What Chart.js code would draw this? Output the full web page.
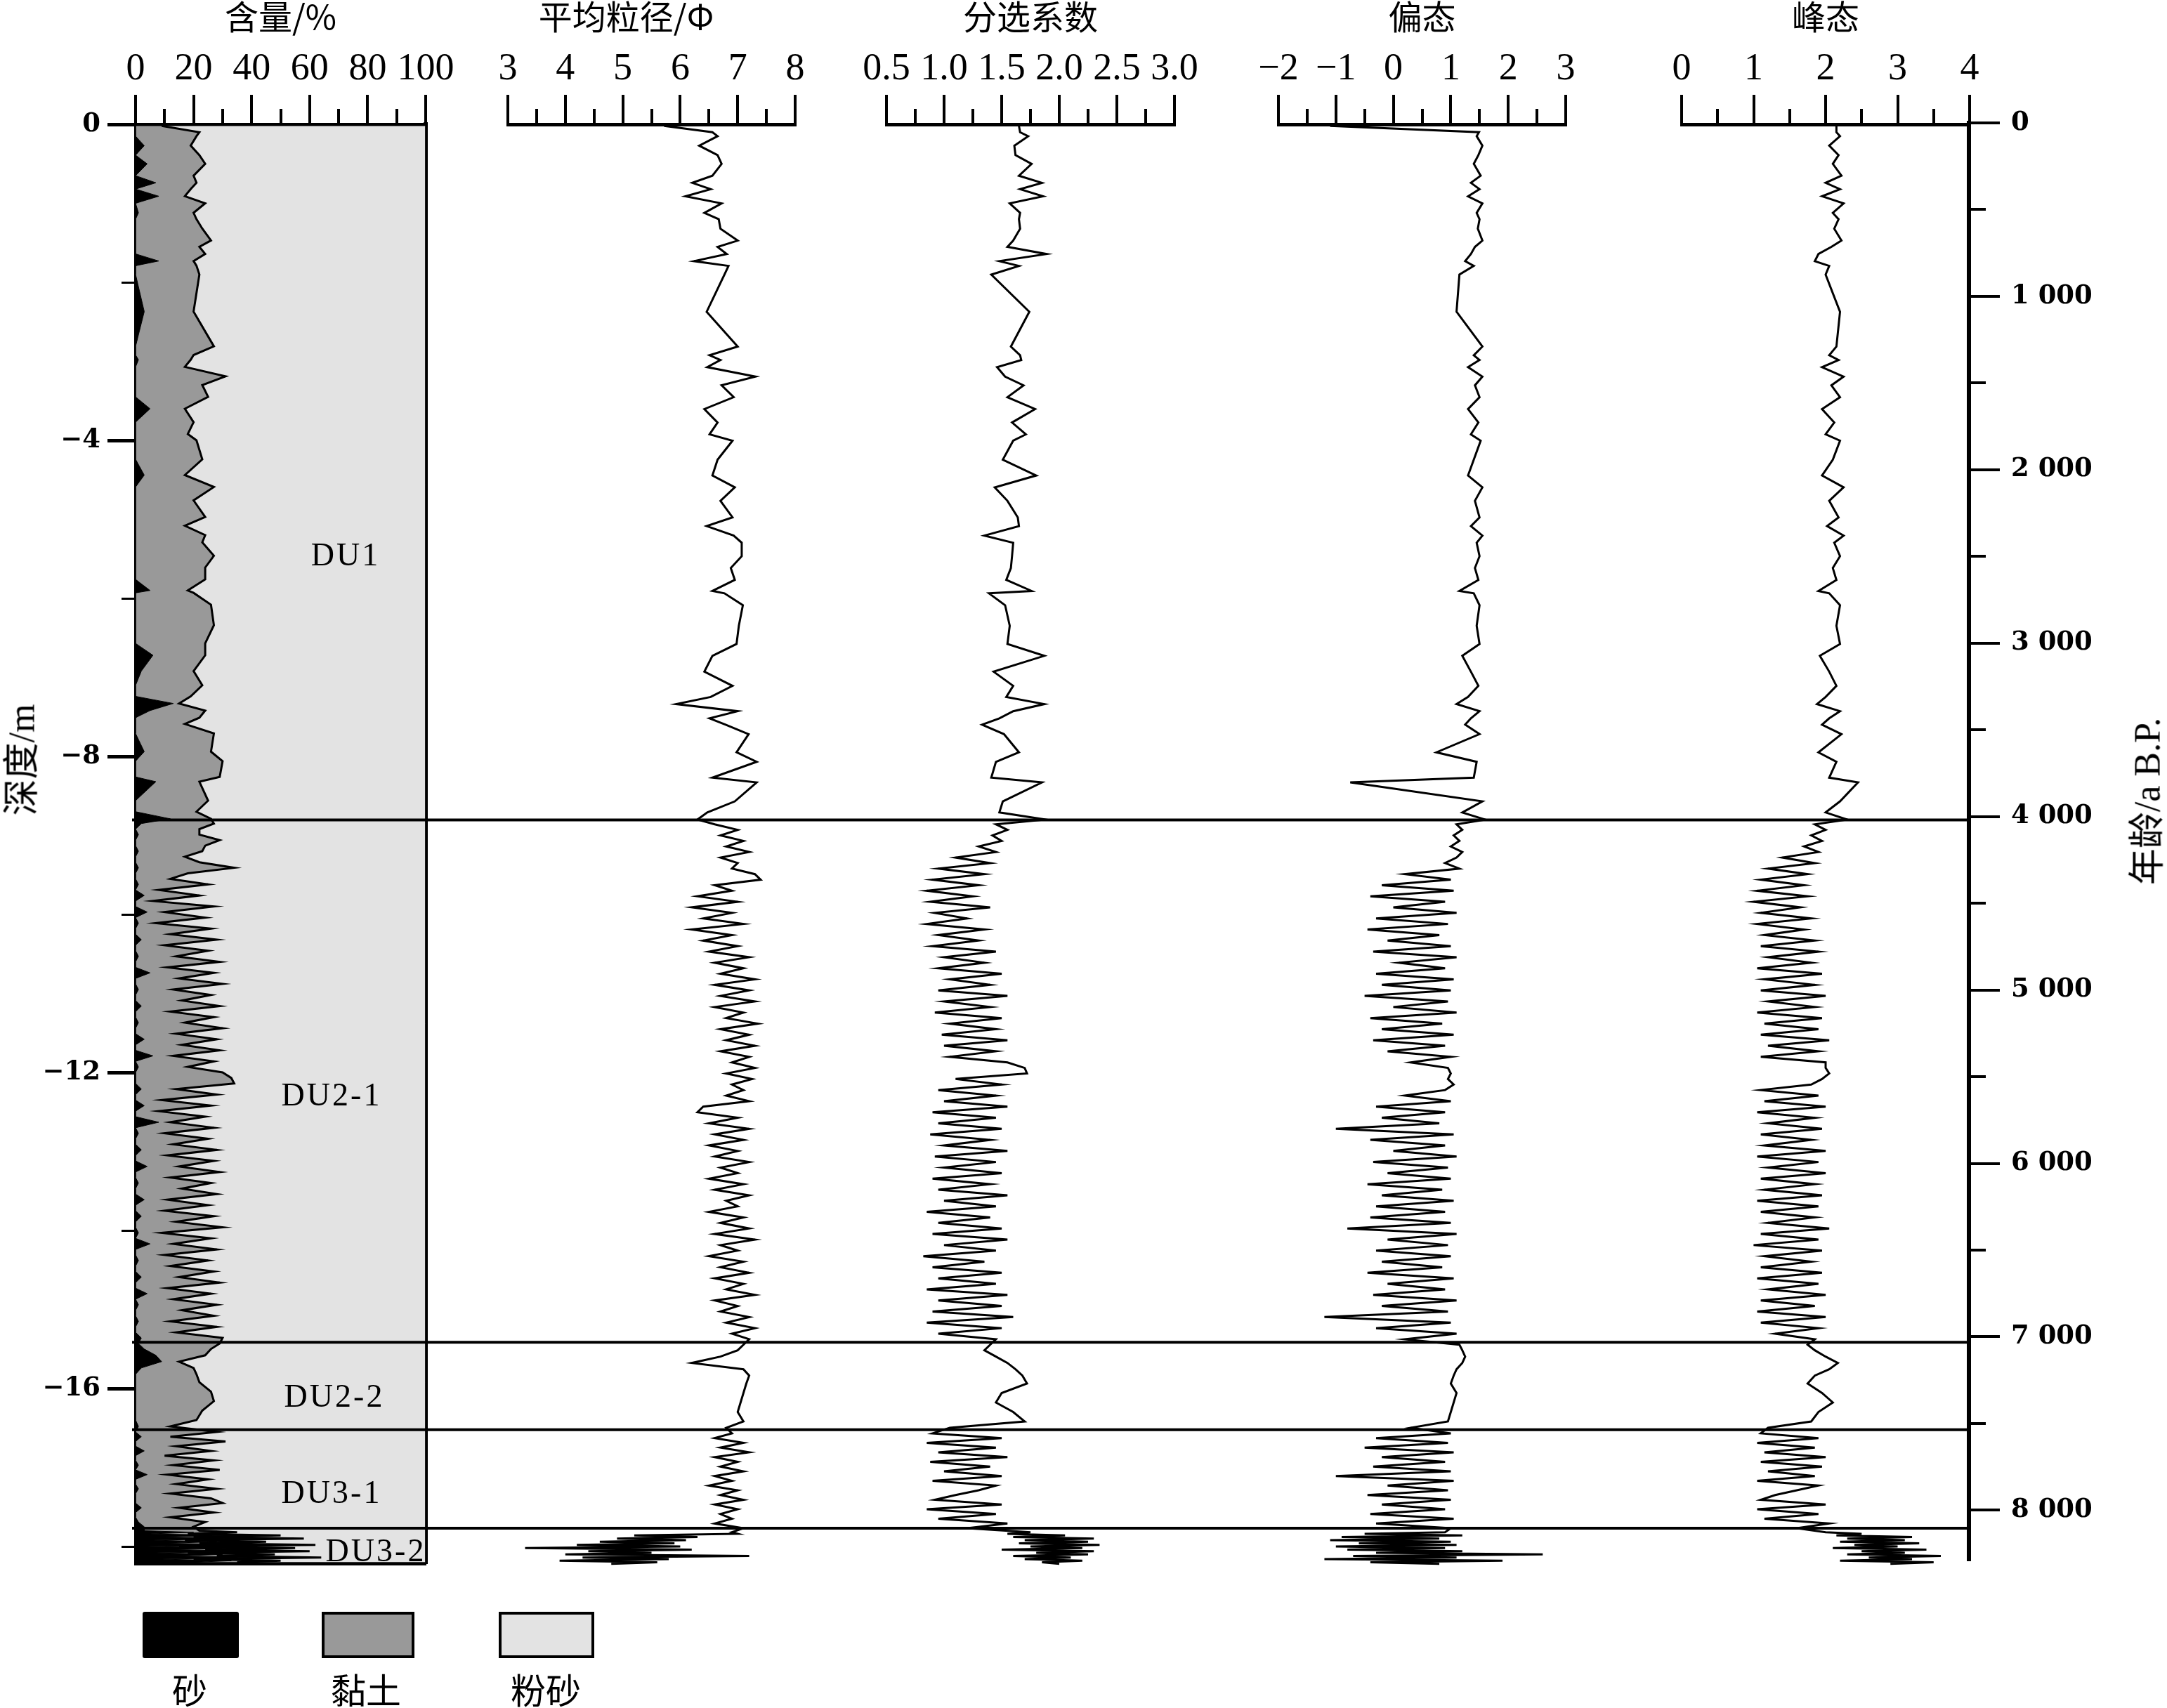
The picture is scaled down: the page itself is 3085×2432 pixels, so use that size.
<!DOCTYPE html>
<html>
<head>
<meta charset="utf-8">
<title>Core grain-size profile</title>
<script src="https://cdn.jsdelivr.net/npm/chart.js"></script>
<style>
    html, body { margin: 0; padding: 0; background: #ffffff; overflow: hidden; }
    #page { position: relative; width: 3085px; height: 2432px; background: #ffffff; }
    #page canvas { position: absolute; top: 0; }
    .txt { position: absolute; transform: translate(-50%, -50%); white-space: nowrap; color: #000; }
    .unit { font-family: 'Liberation Serif', serif; font-size: 46px; letter-spacing: 3px; }
    .cjk { font-family: 'Noto Sans CJK SC', sans-serif; font-size: 50px; }
    .vert { transform: translate(-50%, -50%) rotate(-90deg); font-family: 'Liberation Serif', 'Noto Sans CJK SC', serif; font-size: 52px; }
    .swatch { position: absolute; top: 2295px; height: 66px; box-sizing: border-box; }
</style>
</head>
<body>
<div id="page">
    <canvas id="c1" width="660" height="2259" style="left:0px"></canvas>
    <canvas id="c2" width="529" height="2259" style="left:663px"></canvas>
    <canvas id="c3" width="530" height="2259" style="left:1202px"></canvas>
    <canvas id="c4" width="529" height="2259" style="left:1760px"></canvas>
    <canvas id="c5" width="530" height="2259" style="left:2334px"></canvas>
    <canvas id="overlay" width="3085" height="2259" style="left:0px; pointer-events:none"></canvas>

    <div class="txt unit" style="left:492px; top:789px">DU1</div>
    <div class="txt unit" style="left:472px; top:1558px">DU2-1</div>
    <div class="txt unit" style="left:476px; top:1987px">DU2-2</div>
    <div class="txt unit" style="left:472px; top:2124px">DU3-1</div>
    <div class="txt unit" style="left:535px; top:2207px">DU3-2</div>

    <div class="txt vert" style="left:26px; top:1082px">深度/m</div>
    <div class="txt vert" style="left:3052px; top:1141px">年龄/a B.P.</div>

    <div class="swatch" style="left:203px; width:137px; background:#000000; border-radius:3px"></div>
    <div class="swatch" style="left:458px; width:132px; background:#999999; border:4px solid #000"></div>
    <div class="swatch" style="left:710px; width:136px; background:#e3e3e3; border:4px solid #000"></div>
    <div class="txt cjk" style="left:270px; top:2404px">砂</div>
    <div class="txt cjk" style="left:521px; top:2404px">黏土</div>
    <div class="txt cjk" style="left:777px; top:2404px">粉砂</div>
</div>

<script>
    // sample depths (m below top), one block per sedimentary unit
    var depth = [
        // DU1
        0.02, 0.10, 0.15, 0.27, 0.39, 0.50, 0.65, 0.74, 0.82, 0.91,
        1.00, 1.12, 1.20, 1.32, 1.47, 1.55, 1.64, 1.73, 1.79, 1.90,
        2.37, 2.81, 2.92, 2.98, 3.07, 3.19, 3.30, 3.45, 3.60, 3.77,
        3.92, 4.00, 4.24, 4.44, 4.59, 4.76, 4.97, 5.08, 5.20, 5.29,
        5.46, 5.61, 5.76, 5.90, 5.93, 6.08, 6.34, 6.57, 6.72, 6.92,
        7.10, 7.24, 7.33, 7.42, 7.51, 7.59, 7.71, 7.94, 8.06, 8.26,
        8.32, 8.56, 8.70, 8.79,
        // DU2-1
        8.85, 8.92, 8.99, 9.06, 9.13, 9.20, 9.27, 9.34, 9.41, 9.48,
        9.55, 9.62, 9.69, 9.76, 9.83, 9.90, 9.97, 10.04, 10.11, 10.18,
        10.25, 10.32, 10.39, 10.46, 10.53, 10.60, 10.67, 10.74, 10.81, 10.88,
        10.95, 11.02, 11.09, 11.16, 11.23, 11.30, 11.37, 11.44, 11.51, 11.58,
        11.65, 11.72, 11.79, 11.86, 11.93, 12.00, 12.07, 12.14, 12.21, 12.28,
        12.35, 12.42, 12.49, 12.56, 12.63, 12.70, 12.77, 12.84, 12.91, 12.98,
        13.05, 13.12, 13.19, 13.26, 13.33, 13.40, 13.47, 13.54, 13.61, 13.68,
        13.75, 13.82, 13.89, 13.96, 14.03, 14.10, 14.17, 14.24, 14.31, 14.38,
        14.45, 14.52, 14.59, 14.66, 14.73, 14.80, 14.87, 14.94, 15.01, 15.08,
        15.15, 15.22, 15.29, 15.36,
        // DU2-2
        15.43, 15.50, 15.58, 15.66, 15.74, 15.82, 15.92, 16.04, 16.16, 16.28, 16.40, 16.48,
        // DU3-1
        16.55, 16.61, 16.67, 16.73, 16.79, 16.85, 16.91, 16.97, 17.03, 17.09,
        17.15, 17.21, 17.27, 17.33, 17.39, 17.45, 17.51, 17.57, 17.63, 17.69, 17.75,
        // DU3-2
        17.80, 17.82, 17.84, 17.86, 17.88, 17.90, 17.92, 17.94, 17.96, 17.98,
        18.00, 18.02, 18.04, 18.06, 18.08, 18.10, 18.12, 18.14, 18.16, 18.18, 18.20
    ];

    // sand content, %
    var sand = [
        0, 0, 0, 3, 0, 4, 0, 7, 0, 8,   0, 1, 0, 0, 0, 0, 0, 8, 0, 0,
        3, 0, 0, 1, 0, 0, 0, 0, 5, 0,   0, 0, 0, 3, 0, 0, 0, 0, 0, 0,
        0, 0, 0, 5, 0, 0, 0, 0, 6, 2,   0, 0, 13, 5, 0, 0, 0, 3, 0, 0,
        7, 0, 0, 12,
        2, 0, 1, 0, 0, 1, 0, 0, 1, 0,   0, 1, 0, 3, 0, 0, 4, 0, 1, 0,
        0, 2, 0, 0, 1, 0, 0, 5, 0, 0,   1, 0, 0, 2, 0, 0, 1, 0, 0, 3,
        0, 0, 6, 0, 1, 0, 0, 0, 2, 0,   0, 3, 0, 0, 8, 0, 1, 0, 0, 2,
        0, 0, 4, 0, 0, 1, 0, 0, 3, 0,   0, 2, 0, 0, 1, 0, 5, 0, 0, 1,
        0, 0, 2, 0, 0, 4, 0, 1, 0, 0,   1, 0, 0, 2,
        1, 3, 7, 9, 2, 0, 0, 0, 0, 0, 0, 1,
        0, 2, 0, 0, 3, 0, 0, 1, 0, 4,   0, 0, 1, 0, 0, 0, 2, 0, 0, 1, 3,
        3, 20, 5, 35, 8, 40, 6, 28, 10, 45,   4, 38, 12, 42, 7, 30, 15, 44, 9, 33, 20
    ];

    // clay content, %
    var clay = [
        9, 22, 21, 16, 22, 20, 20, 14, 19, 9,   24, 19, 21, 23, 26, 22, 24, 12, 21, 22,
        17, 27, 20, 18, 17, 31, 23, 25, 12, 20,   18, 21, 23, 14, 27, 20, 24, 17, 24, 23,
        27, 24, 24, 13, 20, 26, 27, 24, 18, 18,   23, 19, 2, 19, 22, 17, 27, 23, 30, 29,
        15, 25, 21, 14,
        25, 22, 21, 29, 24, 22, 17, 22, 33, 18,   12, 24, 8, 19, 6, 27, 6, 24, 6, 26,
        12, 26, 10, 25, 13, 29, 11, 22, 15, 30,   12, 26, 16, 27, 12, 27, 16, 30, 14, 25,
        16, 29, 7, 27, 17, 30, 33, 34, 12, 28,   9, 23, 8, 24, 4, 27, 9, 25, 13, 26,
        11, 27, 11, 29, 12, 25, 16, 28, 8, 25,   10, 25, 14, 30, 8, 26, 8, 28, 10, 24,
        12, 27, 13, 29, 11, 22, 13, 27, 16, 27,   11, 28, 14, 28,
        28, 23, 17, 6, 18, 21, 22, 26, 27, 23, 21, 11,
        28, 10, 31, 14, 23, 10, 27, 12, 29, 7,   25, 14, 27, 12, 26, 30, 13, 27, 12, 23, 17,
        19, 15, 13, 15, 12, 18, 11, 17, 12, 17,   11, 17, 12, 18, 11, 18, 13, 20, 11, 17, 15
    ];

    // mean grain size, phi
    var meanSize = [
        5.72, 6.56, 6.65, 6.33, 6.65, 6.72, 6.56, 6.21, 6.53, 6.09,
        6.72, 6.42, 6.67, 6.70, 7.00, 6.65, 6.81, 6.24, 6.84, 6.77,
        6.46, 7.00, 6.51, 6.70, 6.47, 7.31, 6.72, 6.93, 6.42, 6.65,
        6.51, 6.91, 6.65, 6.56, 6.95, 6.70, 6.91, 6.46, 6.93, 7.07,
        7.07, 6.88, 6.95, 6.56, 6.77, 7.09, 7.02, 6.98, 6.56, 6.42,
        6.91, 6.53, 5.93, 7.00, 6.51, 6.79, 7.19, 6.98, 7.33, 6.56,
        7.33, 6.95, 6.47, 6.30,
        6.6, 7.0, 6.7, 7.1, 6.8, 7.2, 6.7, 7.0, 6.9, 7.3,
        7.4, 6.6, 6.9, 6.3, 7.0, 6.2, 6.9, 6.4, 7.1, 6.2,
        6.9, 6.4, 7.0, 6.5, 7.2, 6.6, 7.1, 6.7, 7.3, 6.6,
        7.2, 6.7, 7.3, 6.6, 7.1, 6.8, 7.35, 6.7, 7.2, 6.8,
        7.3, 6.7, 7.2, 6.9, 7.3, 6.8, 7.25, 6.9, 7.1, 6.8,
        7.2, 6.4, 6.3, 7.0, 6.5, 7.2, 6.6, 7.1, 6.5, 7.0,
        6.6, 7.2, 6.7, 7.0, 6.5, 7.1, 6.6, 7.2, 6.8, 7.0,
        6.5, 7.1, 6.7, 7.2, 6.6, 7.3, 6.7, 7.0, 6.5, 7.1,
        6.7, 7.2, 6.6, 7.1, 6.8, 7.3, 6.6, 7.0, 6.7, 7.2,
        6.8, 7.3, 6.9, 7.2,
        7.10, 7.00, 6.70, 6.20, 7.10, 7.20, 7.15, 7.10, 7.05, 7.00, 7.10, 6.80,
        6.9, 6.6, 7.1, 6.7, 7.2, 6.6, 7.0, 6.7, 7.1, 6.6, 6.9, 6.5, 7.0, 6.7, 7.1, 6.6, 7.0, 6.7, 6.9, 6.6, 7.1,
        6.9, 7.0, 5.2, 6.3, 4.9, 6.1, 4.6, 5.9, 4.2, 6.0, 3.3, 6.2, 4.4, 5.5, 4.0, 7.2, 4.3, 5.8, 3.9, 5.6, 4.8
    ];

    // sorting coefficient
    var sorting = [
        1.65, 1.66, 1.73, 1.61, 1.62, 1.76, 1.65, 1.85, 1.66, 1.86,
        1.57, 1.66, 1.65, 1.66, 1.60, 1.55, 1.89, 1.48, 1.65, 1.41,
        1.74, 1.58, 1.66, 1.67, 1.46, 1.53, 1.69, 1.55, 1.79, 1.59,
        1.71, 1.60, 1.51, 1.80, 1.44, 1.55, 1.64, 1.65, 1.35, 1.60,
        1.59, 1.58, 1.54, 1.76, 1.39, 1.53, 1.57, 1.55, 1.87, 1.43,
        1.60, 1.54, 1.87, 1.60, 1.48, 1.33, 1.52, 1.65, 1.45, 1.41,
        1.85, 1.51, 1.48, 1.88,
        1.45, 1.55, 1.42, 1.50, 1.30, 1.45, 1.10, 1.40, 0.95, 1.35,
        0.90, 1.30, 0.85, 1.25, 0.88, 1.40, 0.92, 1.20, 0.85, 1.35,
        0.95, 1.30, 0.90, 1.45, 1.00, 1.35, 0.95, 1.50, 1.05, 1.40,
        0.95, 1.55, 1.00, 1.40, 0.92, 1.50, 1.05, 1.45, 0.98, 1.55,
        1.00, 1.45, 1.05, 1.55, 1.70, 1.72, 1.10, 1.50, 0.95, 1.45,
        1.00, 1.55, 0.90, 1.45, 0.95, 1.50, 0.88, 1.40, 1.00, 1.55,
        0.92, 1.45, 1.00, 1.50, 0.90, 1.40, 0.95, 1.55, 1.00, 1.45,
        0.85, 1.40, 0.95, 1.50, 0.90, 1.55, 1.00, 1.45, 0.82, 1.35,
        0.90, 1.50, 0.95, 1.45, 0.85, 1.55, 0.95, 1.50, 0.90, 1.60,
        0.85, 1.50, 0.95, 1.45,
        1.40, 1.35, 1.45, 1.55, 1.62, 1.68, 1.72, 1.50, 1.45, 1.60, 1.70, 1.05,
        0.90, 1.50, 0.85, 1.45, 0.95, 1.55, 0.88, 1.40, 1.00, 1.50,
        0.90, 1.45, 1.30, 1.10, 0.92, 1.50, 0.85, 1.45, 0.95, 1.55, 1.20,
        1.75, 1.55, 2.05, 1.60, 2.30, 1.70, 2.25, 1.65, 2.35, 1.75,
        2.20, 1.50, 2.30, 1.80, 2.25, 1.60, 2.10, 1.70, 2.20, 1.85, 2.00
    ];

    // skewness
    var skewness = [
        -1.10, 1.49, 1.45, 1.55, 1.48, 1.40, 1.52, 1.35, 1.50, 1.30,
        1.55, 1.45, 1.50, 1.47, 1.55, 1.42, 1.35, 1.25, 1.40, 1.15,
        1.10, 1.55, 1.40, 1.50, 1.30, 1.55, 1.42, 1.50, 1.30, 1.48,
        1.35, 1.52, 1.40, 1.30, 1.55, 1.42, 1.50, 1.35, 1.55, 1.45,
        1.50, 1.42, 1.48, 1.15, 1.40, 1.50, 1.45, 1.50, 1.20, 1.35,
        1.48, 1.30, 1.10, 1.50, 1.35, 1.25, 1.50, 0.75, 1.45, 1.40,
        -0.75, 1.55, 1.20, 1.60,
        1.10, 1.20, 1.05, 1.15, 1.00, 1.20, 1.10, 0.90, 1.15, 0.20,
        1.00, -0.20, 1.05, -0.40, 0.90, 0.00, 1.10, -0.30, 0.95, -0.45,
        0.80, -0.10, 1.00, -0.35, 1.10, 0.10, 0.90, -0.30, 1.05, -0.20,
        1.00, -0.50, 0.95, 0.00, 1.10, -0.40, 0.85, -0.20, 1.05, -0.35,
        0.90, -0.10, 1.00, 0.30, 0.95, 1.00, 0.95, 1.05, 0.90, 0.20,
        1.00, -0.30, 0.90, -0.20, 0.80, -1.00, 1.05, -0.40, 0.90, 0.00,
        1.10, -0.35, 0.95, -0.10, 1.00, -0.45, 0.85, -0.20, 1.05, -0.30,
        0.90, -0.40, 1.00, -0.80, 1.10, -0.10, 0.95, -0.30, 1.00, -0.20,
        0.85, -0.45, 1.05, -0.10, 0.90, -0.35, 1.10, -0.20, 0.95, -1.20,
        1.00, -0.30, 1.10, 0.20,
        1.15, 1.20, 1.25, 1.20, 1.10, 1.05, 1.00, 1.10, 1.05, 1.00, 0.95, 0.30,
        1.00, -0.30, 0.95, -0.50, 1.05, -0.20, 0.90, -0.35, 1.00, -1.00,
        1.05, -0.10, 0.95, -0.45, 1.00, -0.20, 0.90, -0.40, 1.05, -0.30, 1.00,
        0.90, -0.50, 1.20, -0.90, 0.80, -1.10, 1.00, -0.60, 1.10, -1.00,
        0.90, -0.80, 1.20, -0.30, 2.60, -0.70, 1.10, -1.20, 1.90, -0.40, 0.80
    ];

    // kurtosis
    var kurtosis = [
        2.15, 2.15, 2.20, 2.05, 2.18, 2.10, 2.22, 2.00, 2.20, 1.95,
        2.25, 2.10, 2.18, 2.12, 2.22, 2.08, 1.90, 1.85, 2.05, 2.00,
        2.20, 2.15, 2.05, 2.18, 1.95, 2.25, 2.08, 2.20, 1.95, 2.12,
        2.00, 2.20, 2.10, 1.95, 2.25, 2.05, 2.18, 2.02, 2.25, 2.12,
        2.20, 2.10, 2.15, 1.90, 2.05, 2.20, 2.15, 2.20, 1.92, 2.05,
        2.15, 2.00, 1.88, 2.20, 2.05, 1.95, 2.22, 1.90, 2.15, 2.05,
        2.45, 2.20, 2.00, 2.30,
        1.85, 2.00, 1.80, 1.95, 1.70, 1.90, 1.40, 1.85, 1.20, 1.75,
        1.10, 1.70, 1.05, 1.75, 1.00, 1.65, 1.10, 1.80, 1.05, 1.70,
        1.15, 1.85, 1.10, 1.90, 1.20, 1.80, 1.05, 1.95, 1.15, 1.85,
        1.10, 2.00, 1.20, 1.85, 1.05, 1.95, 1.15, 1.90, 1.10, 2.05,
        1.20, 1.90, 1.10, 2.00, 2.00, 2.05, 1.95, 1.80, 1.10, 1.90,
        1.15, 2.00, 1.05, 1.85, 1.20, 1.95, 1.10, 1.80, 1.15, 2.00,
        1.05, 1.90, 1.20, 2.00, 1.10, 1.85, 1.15, 1.95, 1.05, 1.90,
        1.10, 1.85, 1.20, 2.05, 1.10, 1.90, 1.00, 1.95, 1.15, 1.80,
        1.10, 1.95, 1.05, 1.90, 1.20, 2.00, 1.10, 1.85, 1.05, 2.00,
        1.10, 1.90, 1.30, 1.85,
        1.75, 1.85, 2.00, 2.17, 2.05, 1.85, 1.75, 1.95, 2.10, 1.90, 1.80, 1.20,
        1.10, 1.90, 1.05, 1.85, 1.15, 2.00, 1.10, 1.95, 1.20, 1.85,
        1.05, 1.90, 1.60, 1.30, 1.10, 2.00, 1.05, 1.90, 1.15, 2.05, 1.60,
        2.00, 2.50, 2.15, 3.20, 2.30, 3.10, 2.20, 3.30, 2.40, 3.00,
        2.10, 3.40, 2.50, 3.10, 2.30, 3.60, 2.60, 3.20, 2.20, 3.50, 2.90
    ];

    // unit boundaries (m); age axis in thousands of years B.P.
    var boundaryDepths = [8.83, 15.46, 16.57, 17.82];
    var DEPTH_MAX = 18.22;
    var AGE_MAX_KA = 8.285;

    var TOP = 177;
    var BOTTOM = 2229;
    var H = 2259;

    [sand, clay, meanSize, sorting, skewness, kurtosis].forEach(function (arr, i) {
        if (arr.length !== depth.length) {
            throw new Error('series ' + i + ' has ' + arr.length + ' values, depth has ' + depth.length);
        }
    });

    var silt = depth.map(function (d, i) { return 100 - sand[i] - clay[i]; });

    function pts(values) {
        return values.map(function (v, i) { return { x: v, y: depth[i] }; });
    }

    function minusFmt(v) {
        return v < 0 ? '\u2212' + Math.abs(v) : String(v);
    }

    // top axis with labelled major ticks plus a second axis for short minor ticks
    function topAxes(min, max, major, minor, title, fmt) {
        return {
            x: {
                type: 'linear', position: 'top', min: min, max: max, weight: 1,
                ticks: {
                    stepSize: major, includeBounds: false, autoSkip: false, maxRotation: 0,
                    maxTicksLimit: 100, padding: 4, color: '#000',
                    font: { family: 'Liberation Serif', size: 54 }, callback: fmt
                },
                grid: { drawOnChartArea: false, tickLength: 42, lineWidth: 4, color: '#000' },
                border: { width: 5, color: '#000' },
                title: {
                    display: true, text: title, color: '#000', padding: 0,
                    font: { family: 'Noto Sans CJK SC', size: 48, lineHeight: 1 }
                },
                afterFit: function (s) { s.height = TOP; }
            },
            xMinor: {
                type: 'linear', position: 'top', min: min, max: max, weight: 0,
                ticks: { stepSize: minor, includeBounds: false, maxTicksLimit: 100, display: false },
                grid: { drawOnChartArea: false, tickLength: 22, lineWidth: 4, color: '#000' },
                border: { width: 5, color: '#000' },
                afterFit: function (s) { s.height = 0; }
            }
        };
    }

    function hiddenDepth() {
        return { type: 'linear', min: 0, max: DEPTH_MAX, reverse: true, display: false };
    }

    function baseOptions(scales, padLeft, padRight) {
        return {
            indexAxis: 'y',
            responsive: false,
            animation: false,
            devicePixelRatio: 1,
            layout: { padding: { left: padLeft, right: padRight, top: 0, bottom: H - BOTTOM } },
            plugins: { legend: { display: false }, tooltip: { enabled: false } },
            elements: { point: { radius: 0 }, line: { tension: 0 } },
            scales: scales
        };
    }

    // panel 1: sand / clay / silt content
    var s1 = topAxes(0, 100, 20, 10, '含量/%', function (v) { return String(v); });
    s1.x.stacked = true;
    s1.y = {
        type: 'linear', position: 'left', min: 0, max: DEPTH_MAX, reverse: true, weight: 1,
        ticks: {
            stepSize: 4, includeBounds: false, autoSkip: false, maxTicksLimit: 100, padding: 10, color: '#000',
            font: { family: 'DejaVu Serif', size: 37, weight: 'bold' },
            callback: function (v) { return v === 0 ? '0' : '\u2212' + v; }
        },
        grid: { drawOnChartArea: false, tickLength: 40, lineWidth: 5, color: '#000' },
        border: { width: 5, color: '#000' },
        afterFit: function (s) { s.width = 193; }
    };
    s1.yMinor = {
        type: 'linear', position: 'left', min: 0, max: DEPTH_MAX, reverse: true, weight: 0,
        ticks: { stepSize: 2, includeBounds: false, maxTicksLimit: 100, display: false },
        grid: { drawOnChartArea: false, tickLength: 20, lineWidth: 3, color: '#000' },
        border: { width: 5, color: '#000' },
        afterFit: function (s) { s.width = 0; }
    };
    s1.frameRight = {
        type: 'linear', position: 'right', min: 0, max: DEPTH_MAX, reverse: true,
        grid: { display: false }, ticks: { display: false },
        border: { width: 6, color: '#000' },
        afterFit: function (s) { s.width = 0; }
    };
    s1.frameBottom = {
        type: 'linear', position: 'bottom', min: 0, max: 100,
        grid: { display: false }, ticks: { display: false },
        border: { width: 5, color: '#000' },
        afterFit: function (s) { s.height = 0; }
    };

    new Chart(document.getElementById('c1'), {
        type: 'line',
        data: {
            datasets: [
                { label: '砂', data: pts(sand), xAxisID: 'x', yAxisID: 'y', fill: { value: 0 },
                  backgroundColor: '#000000', borderColor: '#000000', borderWidth: 1, pointRadius: 0 },
                { label: '黏土', data: pts(clay), xAxisID: 'x', yAxisID: 'y', fill: '-1',
                  backgroundColor: '#999999', borderColor: '#000000', borderWidth: 3, pointRadius: 0 },
                { label: '粉砂', data: pts(silt), xAxisID: 'x', yAxisID: 'y', fill: '-1',
                  backgroundColor: '#e3e3e3', borderColor: '#000000', borderWidth: 1, pointRadius: 0 }
            ]
        },
        options: baseOptions(s1, 0, 54)
    });

    // panels 2-5: grain size parameter profiles
    function profile(id, values, min, max, major, minor, title, fmt) {
        var sc = topAxes(min, max, major, minor, title, fmt);
        sc.y = hiddenDepth();
        new Chart(document.getElementById(id), {
            type: 'line',
            data: {
                datasets: [{ data: pts(values), xAxisID: 'x', yAxisID: 'y', fill: false,
                             borderColor: '#000000', borderWidth: 3, pointRadius: 0 }]
            },
            options: baseOptions(sc, 60, 60)
        });
    }

    profile('c2', meanSize, 3, 8, 1, 0.5, '平均粒径/Φ\u2003\u2002', function (v) { return String(v); });
    profile('c3', sorting, 0.5, 3.0, 0.5, 0.25, '分选系数', function (v) { return v.toFixed(1); });
    profile('c4', skewness, -2, 3, 1, 0.5, '偏态', minusFmt);
    profile('c5', kurtosis, 0, 4, 1, 0.5, '峰态', function (v) { return String(v); });

    // overlay: unit boundary lines and the age axis
    new Chart(document.getElementById('overlay'), {
        type: 'line',
        data: {
            datasets: boundaryDepths.map(function (d) {
                return { data: [{ x: 0, y: d }, { x: 1, y: d }], xAxisID: 'x', yAxisID: 'y',
                         borderColor: '#000000', borderWidth: 4, pointRadius: 0, fill: false };
            })
        },
        options: {
            responsive: false,
            animation: false,
            devicePixelRatio: 1,
            layout: { padding: { left: 188, right: 0, top: TOP - 2, bottom: H - BOTTOM } },
            plugins: { legend: { display: false }, tooltip: { enabled: false } },
            scales: {
                x: { type: 'linear', min: 0, max: 1, display: false },
                y: { type: 'linear', min: -2 / 112.6, max: DEPTH_MAX, reverse: true, display: false },
                age: {
                    type: 'linear', position: 'right', min: 0, max: AGE_MAX_KA, reverse: true, weight: 1,
                    ticks: {
                        stepSize: 1, includeBounds: false, autoSkip: false, maxTicksLimit: 100,
                        padding: 16, color: '#000', font: { family: 'DejaVu Serif', size: 37, weight: 'bold' },
                        callback: function (v) { return v === 0 ? '0' : v + ' 000'; }
                    },
                    grid: { drawOnChartArea: false, tickLength: 44, lineWidth: 4, color: '#000' },
                    border: { width: 6, color: '#000' },
                    afterFit: function (s) { s.width = 3085 - 2803; }
                },
                ageMinor: {
                    type: 'linear', position: 'right', min: 0, max: AGE_MAX_KA, reverse: true, weight: 0,
                    ticks: { stepSize: 0.5, includeBounds: false, maxTicksLimit: 100, display: false },
                    grid: { drawOnChartArea: false, tickLength: 24, lineWidth: 4, color: '#000' },
                    border: { width: 6, color: '#000' },
                    afterFit: function (s) { s.width = 0; }
                }
            }
        }
    });
</script>
</body>
</html>
